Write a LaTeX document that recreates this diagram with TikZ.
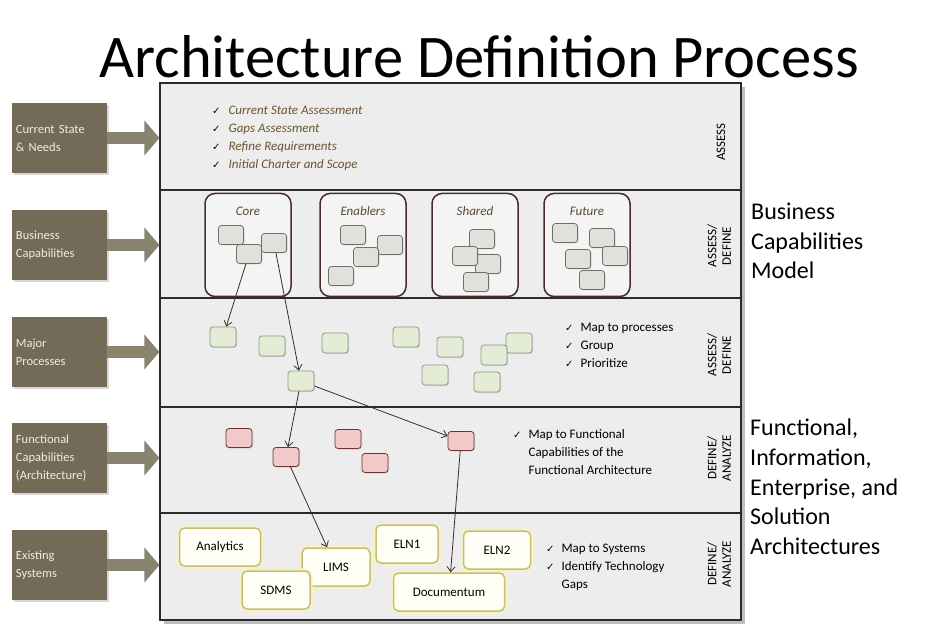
\documentclass[tikz,border=0pt]{standalone}
\usepackage{fontspec}
\setmainfont{Carlito}
\newfontfamily\symfont{DejaVu Sans}
\usetikzlibrary{arrows.meta,shadows}
\definecolor{lboxcol}{HTML}{736B57}
\definecolor{larrowcol}{HTML}{8A846F}
\definecolor{ltextcol}{HTML}{F0ECE0}
\definecolor{bandfill}{HTML}{EDEDED}
\definecolor{bandline}{HTML}{2B2B2B}
\definecolor{grpline}{HTML}{4A2C2C}
\definecolor{grptext}{HTML}{5B4A33}
\definecolor{capfill}{HTML}{E2E0DA}
\definecolor{capline}{HTML}{6F6F69}
\definecolor{procfill}{HTML}{E5ECD6}
\definecolor{procline}{HTML}{8E9884}
\definecolor{funcfill}{HTML}{F2C8C8}
\definecolor{funcline}{HTML}{6B3434}
\definecolor{sysfill}{HTML}{FFFFF6}
\definecolor{sysline}{HTML}{C6BE74}
\definecolor{sysglow}{HTML}{F8F3C4}
\definecolor{toptext}{HTML}{6A5430}
\definecolor{linkcol}{HTML}{3A2C2C}
\newcommand{\chkmark}{{\symfont\fontsize{10}{12}\selectfont ✓}}
\tikzset{
  lbox/.style={fill=lboxcol, minimum width=95pt, minimum height=70pt, inner sep=0pt,
    text width=87pt, align=left, text=ltextcol, font=\fontsize{12.5}{18}\selectfont,
    drop shadow={opacity=0.3, shadow xshift=2pt, shadow yshift=-2pt}},
  larrow/.style={draw=larrowcol, line width=12pt, -{Triangle[length=15pt,width=34pt]}},
  band/.style={draw=bandline, fill=bandfill, line width=1.1pt, minimum width=581pt, inner sep=0pt},
  grp/.style={draw=grpline, fill=bandfill!60!white, line width=1.5pt, rounded corners=10pt,
    minimum width=86pt, minimum height=103pt, inner sep=0pt},
  grplabel/.style={text=grptext, font=\fontsize{13}{15}\selectfont\itshape},
  capbox/.style={draw=capline, fill=capfill, line width=0.8pt, rounded corners=3pt,
    minimum width=25pt, minimum height=19pt, inner sep=0pt,
    drop shadow={opacity=0.25, shadow xshift=1pt, shadow yshift=-1pt}},
  procbox/.style={capbox, draw=procline, fill=procfill, minimum width=26pt, minimum height=20pt},
  funcbox/.style={capbox, draw=funcline, fill=funcfill, minimum width=26pt, minimum height=19pt},
  sysbox/.style={draw=sysline, fill=sysfill, line width=1.5pt, rounded corners=5pt,
    preaction={draw=sysglow, line width=5pt}, minimum height=38pt, inner sep=0pt,
    font=\fontsize{13}{15}\selectfont},
  phase/.style={rotate=90, align=center, font=\fontsize{13}{14.5}\selectfont},
  chklist/.style={anchor=west, inner sep=0pt, font=\fontsize{13}{18}\selectfont},
  side/.style={anchor=north west, inner sep=0pt, align=left, font=\fontsize{24}{29.6}\selectfont},
  link/.style={draw=linkcol, line width=0.8pt, -{Straight Barb[length=5pt,width=8pt]}}
}
\begin{document}
\begin{tikzpicture}[x=1pt, y=-1pt]
\useasboundingbox[fill=white] (0,0) rectangle (948,628);
\node (title) at (479,57) {\fontsize{60.5}{62}\selectfont Architecture Definition Process};

\fill[black!25] (164,87) rectangle (745,624);
\node[band, minimum height=107pt] (assess) at (450.5,136.5) {};
\node[band, minimum height=108pt] (bcap) at (450.5,244) {};
\node[band, minimum height=109pt] (mproc) at (450.5,352.5) {};
\node[band, minimum height=106pt] (fcap) at (450.5,460) {};
\node[band, minimum height=107pt] (esys) at (450.5,566.5) {};

\node[lbox] (cs) at (59.5,138) {Current State\\\& Needs};
\node[lbox] (bc) at (59.5,245) {Business\\Capabilities};
\node[lbox] (mp) at (59.5,352) {Major\\Processes};
\node[lbox] (fc) at (59.5,458) {Functional\\Capabilities\\(Architecture)};
\node[lbox] (es) at (59.5,565) {Existing\\Systems};
\draw[larrow] (cs.east) -- (cs.east -| assess.west);
\draw[larrow] (bc.east) -- (bc.east -| bcap.west);
\draw[larrow] (mp.east) -- (mp.east -| mproc.west);
\draw[larrow] (fc.east) -- (fc.east -| fcap.west);
\draw[larrow] (es.east) -- (es.east -| esys.west);

\node[chklist] (toplist) at (212,138) {\begin{tabular}{@{}l@{\hspace{8pt}}l@{}}
\chkmark & \textcolor{toptext}{\itshape Current State Assessment}\\
\chkmark & \textcolor{toptext}{\itshape Gaps Assessment}\\
\chkmark & \textcolor{toptext}{\itshape Refine Requirements}\\
\chkmark & \textcolor{toptext}{\itshape Initial Charter and Scope}
\end{tabular}};

\node[grp] (core) at (248,245) {};
\node[grp] (enab) at (363,245) {};
\node[grp] (shrd) at (475,245) {};
\node[grp] (futr) at (587,245) {};
\node[grplabel] at (core.center |- 0,211) {Core};
\node[grplabel] at (enab.center |- 0,211) {Enablers};
\node[grplabel] at (shrd.center |- 0,211) {Shared};
\node[grplabel] at (futr.center |- 0,211) {Future};
\node[capbox] (core1) at (231,235) {};
\node[capbox] (core2) at (249,254) {};
\node[capbox] (core3) at (274,243) {};
\node[capbox] (enab1) at (353,235) {};
\node[capbox] (enab2) at (390,245) {};
\node[capbox] (enab3) at (366,257) {};
\node[capbox] (enab4) at (341,276) {};
\node[capbox] (shrd1) at (482,239) {};
\node[capbox] (shrd3) at (488,264) {};
\node[capbox] (shrd2) at (465,256) {};
\node[capbox] (shrd4) at (476,282) {};
\node[capbox] (futr1) at (565,233) {};
\node[capbox] (futr2) at (602,238) {};
\node[capbox] (futr3) at (578,259) {};
\node[capbox] (futr4) at (615,256) {};
\node[capbox] (futr5) at (592,280) {};

\node[procbox] (proc1) at (223,337) {};
\node[procbox] (proc2) at (272,346) {};
\node[procbox] (proc3) at (335,343) {};
\node[procbox] (proc4) at (406,337) {};
\node[procbox] (proc5) at (450,347) {};
\node[procbox] (proc7) at (519,343) {};
\node[procbox] (proc6) at (494,355) {};
\node[procbox] (proc8) at (435,375) {};
\node[procbox] (proc9) at (487,382) {};
\node[procbox] (proc10) at (301,381) {};
\node[chklist] (proclist) at (565,346) {\begin{tabular}{@{}l@{\hspace{7pt}}l@{}}
\chkmark & Map to processes\\
\chkmark & Group\\
\chkmark & Prioritize
\end{tabular}};

\node[funcbox] (func1) at (239,438) {};
\node[funcbox] (func2) at (286,457) {};
\node[funcbox] (func3) at (348,439) {};
\node[funcbox] (func4) at (375,463) {};
\node[funcbox] (func5) at (461,441) {};
\node[chklist] (funclist) at (513,453) {\begin{tabular}{@{}l@{\hspace{7pt}}l@{}}
\chkmark & Map to Functional\\
 & Capabilities of the\\
 & Functional Architecture
\end{tabular}};

\node[sysbox, minimum width=81pt] (analytics) at (220,547) {Analytics};
\node[sysbox, minimum width=68pt] (lims) at (336,567) {LIMS};
\node[sysbox, minimum width=68pt] (sdms) at (276,590) {SDMS};
\node[sysbox, minimum width=62pt] (eln1) at (407,544) {ELN1};
\node[sysbox, minimum width=67pt] (eln2) at (497,550) {ELN2};
\node[sysbox, minimum width=111pt] (docum) at (449,592) {Documentum};
\node[chklist] (syslist) at (546,567) {\begin{tabular}{@{}l@{\hspace{7pt}}l@{}}
\chkmark & Map to Systems\\
\chkmark & Identify Technology\\
 & Gaps
\end{tabular}};

\draw[link] (core2) -- (proc1);
\draw[link] (core3) -- (proc10);
\draw[link] (proc10) -- (func2);
\draw[link] (proc10) -- (func5);
\draw[link] (func2) -- (lims);
\draw[link] (func5) -- (docum);

\node[phase] (ph1) at (721,142) {ASSESS};
\node[phase] (ph2) at (719,246) {ASSESS/\\DEFINE};
\node[phase] (ph3) at (719,355) {ASSESS/\\DEFINE};
\node[phase] (ph4) at (719,458) {DEFINE/\\ANALYZE};
\node[phase] (ph5) at (719,564) {DEFINE/\\ANALYZE};

\node[side] (bcm) at (751,203) {Business\\Capabilities\\Model};
\node[side] (arch) at (750,419) {Functional,\\Information,\\Enterprise, and\\Solution\\Architectures};
\end{tikzpicture}
\end{document}
